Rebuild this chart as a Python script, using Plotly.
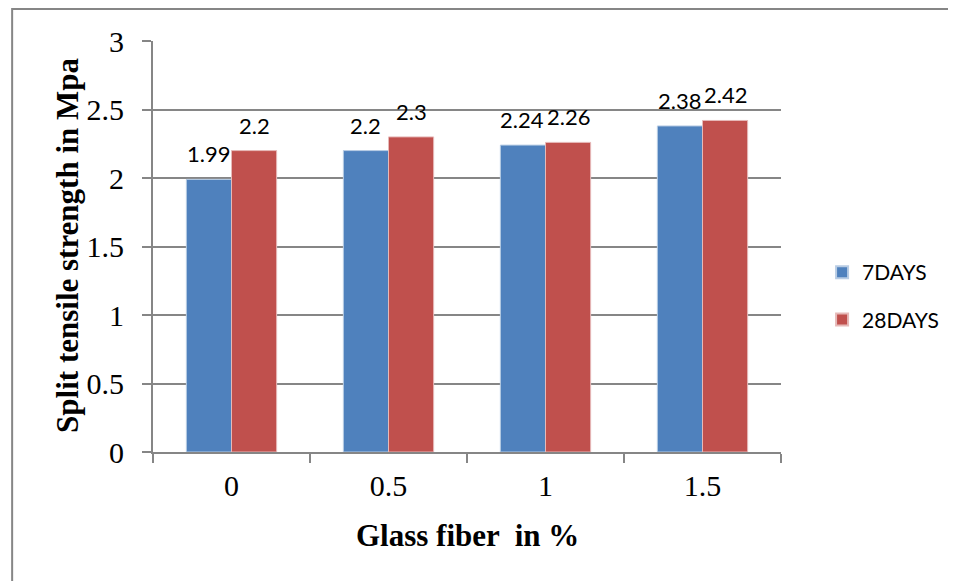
import plotly.graph_objects as go

categories = ["0", "0.5", "1", "1.5"]
days7 = [1.99, 2.2, 2.24, 2.38]
days28 = [2.2, 2.3, 2.26, 2.42]
y_ticks = [0, 0.5, 1, 1.5, 2, 2.5, 3]
y_ticklabels = ["0", "0.5", "1", "1.5", "2", "2.5", "3"]

sans = "Lato, 'Open Sans', sans-serif"
serif = "'Liberation Serif', 'Times New Roman', serif"
label_font = dict(family=sans, size=22, color="#000000")

W, H = 948, 573
L, R, T, B = 145, 161, 33, 129
PW, PH = W - L - R, H - T - B
BARGAP = 0.425
half_bar = PW / len(categories) * (1 - BARGAP) / 4  # half of one bar's width in px

fig = go.Figure()
fig.add_trace(go.Bar(
    x=categories, y=days7, name="7DAYS", legendgroup="g7",
    marker=dict(color="#4F81BD", line=dict(color="#B8CCE4", width=1)),
))
fig.add_trace(go.Bar(
    x=categories, y=days28, name="28DAYS", legendgroup="g28",
    marker=dict(color="#C0504D", line=dict(color="#E6B9B8", width=1)),
))

annotations = []
for series, shift in ((days7, -half_bar), (days28, half_bar)):
    for idx, val in enumerate(series):
        # on a category axis, annotation x is the category index
        annotations.append(dict(
            x=idx, y=val, xref="x", yref="y", text=str(val),
            xanchor="center", yanchor="bottom", xshift=shift, yshift=10,
            showarrow=False, font=label_font,
        ))

annotations += [
    dict(text="<b>Split tensile strength in Mpa</b>", xref="paper", yref="paper",
         x=(58 - L) / PW, y=(H - B - 237) / PH, xanchor="center", yanchor="middle",
         textangle=-90, showarrow=False,
         font=dict(family=serif, size=31, color="#000000")),
    dict(text="<b>Glass fiber  in %</b>", xref="paper", yref="paper",
         x=0.5, y=(H - B - 527) / PH, xanchor="center", yanchor="middle",
         showarrow=False,
         font=dict(family=serif, size=31, color="#000000")),
]

fig.update_layout(
    width=W, height=H,
    margin=dict(l=L, r=R, t=T, b=B),
    paper_bgcolor="white", plot_bgcolor="white",
    barmode="group", bargap=BARGAP, bargroupgap=0,
    showlegend=True,
    legend=dict(
        x=(837 - 8 - L) / PW, y=(H - B - (296 - 8)) / PH, xanchor="left", yanchor="middle",
        font=dict(family=sans, size=21, color="#000000"),
        traceorder="grouped", tracegroupgap=17, itemsizing="constant",
    ),
    xaxis=dict(
        type="category",
        showline=True, linecolor="#868686", linewidth=2,
        ticks="outside", ticklen=9, tickcolor="#868686", tickwidth=2,
        tickson="boundaries", ticklabelstandoff=6,
        tickfont=dict(family=serif, size=30, color="#000000"),
        showgrid=False,
    ),
    yaxis=dict(
        range=[0, 3], tickvals=y_ticks, ticktext=y_ticklabels,
        showline=True, linecolor="#868686", linewidth=2,
        ticks="outside", ticklen=9, tickcolor="#868686", tickwidth=2,
        ticklabelstandoff=12,
        tickfont=dict(family=serif, size=30, color="#000000"),
        showgrid=True, gridcolor="#868686", gridwidth=2,
        zeroline=False,
    ),
    annotations=annotations,
    shapes=[dict(
        type="rect", xref="paper", yref="paper",
        x0=(1 - L) / PW, x1=2.0, y0=-2.0, y1=(H - B - 1) / PH,
        line=dict(color="#868686", width=2), fillcolor="rgba(0,0,0,0)", layer="below",
    )],
)

fig.write_html("out.html")
